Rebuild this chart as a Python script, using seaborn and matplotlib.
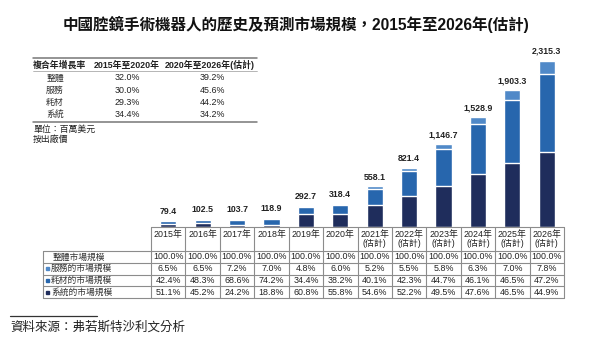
import matplotlib
matplotlib.use("Agg")
import matplotlib.pyplot as plt
from matplotlib.lines import Line2D
from matplotlib.patches import Rectangle
import numpy as np
import pandas as pd
import seaborn as sns

# ---- data ----
years = ["2015", "2016", "2017", "2018", "2019", "2020",
         "2021", "2022", "2023", "2024", "2025", "2026"]
estimated = [False] * 6 + [True] * 6
totals = [79.4, 102.5, 103.7, 118.9, 292.7, 318.4,
          558.1, 821.4, 1146.7, 1528.9, 1903.3, 2315.3]
share_service = [6.5, 6.5, 7.2, 7.0, 4.8, 6.0, 5.2, 5.5, 5.8, 6.3, 7.0, 7.8]
share_consumables = [42.4, 48.3, 68.6, 74.2, 34.4, 38.2, 40.1, 42.3, 44.7, 46.1, 46.5, 47.2]
share_system = [51.1, 45.2, 24.2, 18.8, 60.8, 55.8, 54.6, 52.2, 49.5, 47.6, 46.5, 44.9]

cagr_rows = ["整體", "服務", "耗材", "系統"]
cagr_2015_2020 = ["32.0%", "30.0%", "29.3%", "34.4%"]
cagr_2020_2026 = ["39.2%", "45.6%", "44.2%", "34.2%"]

row_labels = ["整體市場規模", "服務的市場規模", "耗材的市場規模", "系統的市場規模"]

title = "中國腔鏡手術機器人的歷史及預測市場規模，2015年至2026年(估計)"

C_SYS = "#1f2d5c"
C_CON = "#2766ad"
C_SRV = "#5089c8"
GRID = "#8c8c8c"
FONT = ["Liberation Sans", "Noto Sans CJK TC"]

sns.set_theme(style="white")
plt.rcParams["font.family"] = FONT

W, H = 591, 346
fig = plt.figure(figsize=(W / 100, H / 100), dpi=100)


def fx(x):
    return x / W


def fy(y):
    return 1 - y / H


def hline(x0, x1, y, lw=0.8, color=GRID):
    fig.add_artist(Line2D([fx(x0), fx(x1)], [fy(y), fy(y)], color=color, lw=lw,
                          transform=fig.transFigure))


def vline(x, y0, y1, lw=0.8, color=GRID):
    fig.add_artist(Line2D([fx(x), fx(x)], [fy(y0), fy(y1)], color=color, lw=lw,
                          transform=fig.transFigure))


# ---- stacked bars ----
col_left, col_right = 151, 564
base_y, top_y = 226.5, 40
ax = fig.add_axes([fx(col_left), fy(base_y), fx(col_right) - fx(col_left),
                   (base_y - top_y) / H])

tot = np.array(totals)
sys_v = tot * np.array(share_system) / 100
con_v = tot * np.array(share_consumables) / 100
df = pd.DataFrame({"year": years, "total": tot,
                   "sys_con": sys_v + con_v, "sys": sys_v})

for col, colr in [("total", C_SRV), ("sys_con", C_CON), ("sys", C_SYS)]:
    sns.barplot(data=df, x="year", y=col, color=colr, width=0.47,
                edgecolor="white", linewidth=1.0, saturation=1, ax=ax)

ax.set_xlim(-0.5, len(years) - 0.5)
ax.set_ylim(0, 2315.3 * (base_y - top_y) / 166)
ax.axis("off")

for i, t in enumerate(totals):
    ax.annotate(f"{t:,.1f}", (i, t), xytext=(0, 3.5), textcoords="offset points",
                ha="center", va="bottom", fontsize=6.3, fontweight="bold",
                color="#222222")

# ---- data table below bars ----
cw = (col_right - col_left) / len(years)
row_top = 251
rh = 11.75
lab_left = 43

hline(col_left, col_right, base_y)
for k in range(len(years) + 1):
    vline(col_left + k * cw, base_y, row_top + 4 * rh)
vline(lab_left, row_top, row_top + 4 * rh)
for r in range(5):
    hline(lab_left, col_right, row_top + r * rh)

for i, y in enumerate(years):
    cx = col_left + (i + 0.5) * cw
    fig.text(fx(cx), fy(235), f"{y}年", ha="center", va="center",
             fontsize=6.4, color="#222222")
    if estimated[i]:
        fig.text(fx(cx), fy(243.5), "(估計)", ha="center", va="center",
                 fontsize=6.4, color="#222222")

table_vals = [[100.0] * len(years), share_service, share_consumables, share_system]
sq_colors = [None, C_SRV, C_CON, C_SYS]
for r in range(4):
    cy = row_top + (r + 0.5) * rh
    if sq_colors[r] is None:
        fig.text(fx(53), fy(cy), row_labels[r], ha="left", va="center",
                 fontsize=6.3, color="#333333")
    else:
        fig.add_artist(Rectangle((fx(46), fy(cy + 1.6)), 3.2 / W, 3.2 / H,
                                 color=sq_colors[r], transform=fig.transFigure))
        fig.text(fx(51), fy(cy), row_labels[r], ha="left", va="center",
                 fontsize=6.3, color="#333333")
    for i, v in enumerate(table_vals[r]):
        cx = col_left + (i + 0.5) * cw
        fig.text(fx(cx), fy(cy), f"{v:.1f}%", ha="center", va="center",
                 fontsize=6.4, color="#222222")

# ---- CAGR table ----
hline(33, 257, 58, lw=1.1, color="#777777")
hline(33, 257, 71, lw=0.5, color="#999999")
hline(33, 257, 122, lw=1.1, color="#777777")
fig.text(fx(33), fy(65), "複合年增長率", ha="left", va="center",
         fontsize=6.4, fontweight="bold", color="#222222")
fig.text(fx(127), fy(65), "2015年至2020年", ha="center", va="center",
         fontsize=6.4, fontweight="bold", color="#222222")
fig.text(fx(210), fy(65), "2020年至2026年(估計)", ha="center", va="center",
         fontsize=6.4, fontweight="bold", color="#222222")
for r, lab in enumerate(cagr_rows):
    cy = 78 + r * 12.3
    fig.text(fx(55), fy(cy), lab, ha="center", va="center", fontsize=6.4, color="#333333")
    fig.text(fx(127), fy(cy), cagr_2015_2020[r], ha="center", va="center",
             fontsize=6.4, color="#222222")
    fig.text(fx(212), fy(cy), cagr_2020_2026[r], ha="center", va="center",
             fontsize=6.4, color="#222222")
fig.text(fx(33), fy(129.5), "單位：百萬美元", ha="left", va="center",
         fontsize=6.4, color="#222222")
fig.text(fx(33), fy(139.5), "按出廠價", ha="left", va="center",
         fontsize=6.4, color="#222222")

# ---- title and source ----
fig.text(fx(296), fy(24), title, ha="center", va="center", fontsize=11.2,
         fontweight="bold", color="#111111")
hline(10, 97, 315.5, lw=0.9, color="#333333")
fig.text(fx(10), fy(328), "資料來源：弗若斯特沙利文分析", ha="left", va="center",
         fontsize=9.0, style="italic", color="#222222")

fig.savefig("out.png", dpi=100, facecolor="white")
